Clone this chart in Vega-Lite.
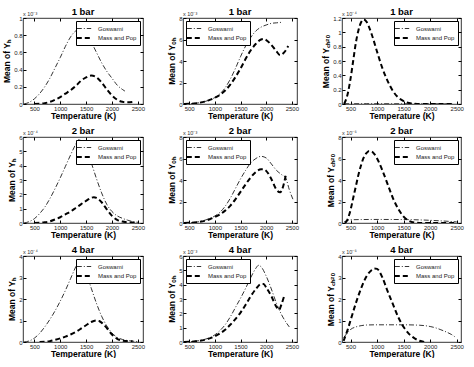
{
  "$schema": "https://vega.github.io/schema/vega-lite/v6.json",
  "background": "white",
  "padding": {"left": 2, "top": 6, "right": 2, "bottom": 0},
  "config": {
    "font": "Liberation Sans",
    "view": {"stroke": "black", "strokeWidth": 0.8},
    "title": {"fontSize": 9.5, "fontWeight": "bold", "offset": 1, "dy": 5, "color": "black"},
    "axis": {"labelFontSize": 6, "labelColor": "#222", "titleFontSize": 8.5, "titleFontWeight": "bold", "titleColor": "black", "domain": false, "grid": false, "tickColor": "black", "tickSize": -3, "labelPadding": 4},
    "axisX": {"titlePadding": 0, "format": "d"},
    "axisY": {"titlePadding": 2, "format": "~f"},
    "legend": {"title": null, "symbolType": "M-1.8,0H1.8", "symbolStrokeColor": "black", "symbolFillColor": "transparent", "strokeColor": "black", "fillColor": "white", "padding": 3, "labelFontSize": 6, "labelColor": "#222", "symbolSize": 64, "offset": 3, "rowPadding": 1, "labelOffset": 9},
    "text": {"fontSize": 5.5, "color": "#333"}
  },
  "datasets": {
    "h1": [
      {"s":"Goswami","T":300,"v":0},{"s":"Goswami","T":400,"v":0.02},{"s":"Goswami","T":500,"v":0.06},{"s":"Goswami","T":600,"v":0.12},{"s":"Goswami","T":700,"v":0.2},{"s":"Goswami","T":800,"v":0.3},{"s":"Goswami","T":900,"v":0.42},{"s":"Goswami","T":1000,"v":0.54},{"s":"Goswami","T":1100,"v":0.67},{"s":"Goswami","T":1200,"v":0.78},{"s":"Goswami","T":1300,"v":0.85},{"s":"Goswami","T":1400,"v":0.87},{"s":"Goswami","T":1500,"v":0.82},{"s":"Goswami","T":1600,"v":0.72},{"s":"Goswami","T":1700,"v":0.6},{"s":"Goswami","T":1800,"v":0.48},{"s":"Goswami","T":1900,"v":0.38},{"s":"Goswami","T":2000,"v":0.3},{"s":"Goswami","T":2100,"v":0.22},{"s":"Goswami","T":2200,"v":0.17},{"s":"Goswami","T":2250,"v":0.15},
      {"s":"Mass and Pop","T":500,"v":0},{"s":"Mass and Pop","T":600,"v":0.002},{"s":"Mass and Pop","T":700,"v":0.01},{"s":"Mass and Pop","T":800,"v":0.025},{"s":"Mass and Pop","T":900,"v":0.05},{"s":"Mass and Pop","T":1000,"v":0.08},{"s":"Mass and Pop","T":1100,"v":0.12},{"s":"Mass and Pop","T":1200,"v":0.16},{"s":"Mass and Pop","T":1300,"v":0.21},{"s":"Mass and Pop","T":1400,"v":0.27},{"s":"Mass and Pop","T":1500,"v":0.31},{"s":"Mass and Pop","T":1600,"v":0.33},{"s":"Mass and Pop","T":1700,"v":0.31},{"s":"Mass and Pop","T":1800,"v":0.25},{"s":"Mass and Pop","T":1900,"v":0.17},{"s":"Mass and Pop","T":2000,"v":0.1},{"s":"Mass and Pop","T":2100,"v":0.05},{"s":"Mass and Pop","T":2200,"v":0.025},{"s":"Mass and Pop","T":2300,"v":0.02},{"s":"Mass and Pop","T":2400,"v":0.025}
    ],
    "oh1": [
      {"s":"Goswami","T":400,"v":0},{"s":"Goswami","T":500,"v":0.02},{"s":"Goswami","T":600,"v":0.06},{"s":"Goswami","T":700,"v":0.12},{"s":"Goswami","T":800,"v":0.22},{"s":"Goswami","T":900,"v":0.38},{"s":"Goswami","T":1000,"v":0.6},{"s":"Goswami","T":1100,"v":0.95},{"s":"Goswami","T":1200,"v":1.5},{"s":"Goswami","T":1300,"v":2.3},{"s":"Goswami","T":1400,"v":3.3},{"s":"Goswami","T":1500,"v":4.4},{"s":"Goswami","T":1600,"v":5.4},{"s":"Goswami","T":1700,"v":6.2},{"s":"Goswami","T":1800,"v":6.8},{"s":"Goswami","T":1900,"v":7.15},{"s":"Goswami","T":2000,"v":7.35},{"s":"Goswami","T":2100,"v":7.5},{"s":"Goswami","T":2200,"v":7.55},{"s":"Goswami","T":2300,"v":7.6},
      {"s":"Mass and Pop","T":400,"v":0},{"s":"Mass and Pop","T":500,"v":0.02},{"s":"Mass and Pop","T":600,"v":0.05},{"s":"Mass and Pop","T":700,"v":0.12},{"s":"Mass and Pop","T":800,"v":0.22},{"s":"Mass and Pop","T":900,"v":0.38},{"s":"Mass and Pop","T":1000,"v":0.58},{"s":"Mass and Pop","T":1100,"v":0.85},{"s":"Mass and Pop","T":1200,"v":1.25},{"s":"Mass and Pop","T":1300,"v":1.8},{"s":"Mass and Pop","T":1400,"v":2.5},{"s":"Mass and Pop","T":1500,"v":3.3},{"s":"Mass and Pop","T":1600,"v":4.2},{"s":"Mass and Pop","T":1700,"v":5.0},{"s":"Mass and Pop","T":1800,"v":5.6},{"s":"Mass and Pop","T":1900,"v":6.0},{"s":"Mass and Pop","T":1950,"v":6.05},{"s":"Mass and Pop","T":2000,"v":5.95},{"s":"Mass and Pop","T":2100,"v":5.5},{"s":"Mass and Pop","T":2200,"v":4.9},{"s":"Mass and Pop","T":2270,"v":4.55},{"s":"Mass and Pop","T":2350,"v":4.8},{"s":"Mass and Pop","T":2430,"v":5.4}
    ],
    "c1": [
      {"s":"Goswami","T":380,"v":0.003},{"s":"Goswami","T":800,"v":0.004},{"s":"Goswami","T":1500,"v":0.003},{"s":"Goswami","T":2450,"v":0.002},
      {"s":"Mass and Pop","T":380,"v":0},{"s":"Mass and Pop","T":450,"v":0.15},{"s":"Mass and Pop","T":500,"v":0.35},{"s":"Mass and Pop","T":550,"v":0.6},{"s":"Mass and Pop","T":600,"v":0.85},{"s":"Mass and Pop","T":650,"v":1.03},{"s":"Mass and Pop","T":700,"v":1.14},{"s":"Mass and Pop","T":750,"v":1.18},{"s":"Mass and Pop","T":800,"v":1.15},{"s":"Mass and Pop","T":900,"v":0.97},{"s":"Mass and Pop","T":1000,"v":0.73},{"s":"Mass and Pop","T":1100,"v":0.5},{"s":"Mass and Pop","T":1200,"v":0.32},{"s":"Mass and Pop","T":1300,"v":0.18},{"s":"Mass and Pop","T":1400,"v":0.09},{"s":"Mass and Pop","T":1500,"v":0.04},{"s":"Mass and Pop","T":1600,"v":0.015},{"s":"Mass and Pop","T":1700,"v":0.005},{"s":"Mass and Pop","T":1800,"v":0.001},{"s":"Mass and Pop","T":2100,"v":0},{"s":"Mass and Pop","T":2450,"v":0}
    ],
    "h2": [
      {"s":"Goswami","T":300,"v":0},{"s":"Goswami","T":400,"v":0.1},{"s":"Goswami","T":500,"v":0.3},{"s":"Goswami","T":600,"v":0.65},{"s":"Goswami","T":700,"v":1.1},{"s":"Goswami","T":800,"v":1.7},{"s":"Goswami","T":900,"v":2.4},{"s":"Goswami","T":1000,"v":3.15},{"s":"Goswami","T":1100,"v":3.95},{"s":"Goswami","T":1200,"v":4.75},{"s":"Goswami","T":1300,"v":5.5},{"s":"Goswami","T":1350,"v":5.8},{"s":"Goswami","T":1400,"v":5.75},{"s":"Goswami","T":1500,"v":5.2},{"s":"Goswami","T":1600,"v":4.2},{"s":"Goswami","T":1700,"v":3.1},{"s":"Goswami","T":1800,"v":2.1},{"s":"Goswami","T":1900,"v":1.3},{"s":"Goswami","T":2000,"v":0.8},{"s":"Goswami","T":2100,"v":0.5},{"s":"Goswami","T":2200,"v":0.33},{"s":"Goswami","T":2300,"v":0.2},{"s":"Goswami","T":2400,"v":0.1},{"s":"Goswami","T":2500,"v":0.05},
      {"s":"Mass and Pop","T":500,"v":0},{"s":"Mass and Pop","T":600,"v":0.01},{"s":"Mass and Pop","T":700,"v":0.05},{"s":"Mass and Pop","T":800,"v":0.12},{"s":"Mass and Pop","T":900,"v":0.25},{"s":"Mass and Pop","T":1000,"v":0.4},{"s":"Mass and Pop","T":1100,"v":0.6},{"s":"Mass and Pop","T":1200,"v":0.8},{"s":"Mass and Pop","T":1300,"v":1.05},{"s":"Mass and Pop","T":1400,"v":1.3},{"s":"Mass and Pop","T":1500,"v":1.55},{"s":"Mass and Pop","T":1600,"v":1.75},{"s":"Mass and Pop","T":1650,"v":1.8},{"s":"Mass and Pop","T":1700,"v":1.75},{"s":"Mass and Pop","T":1800,"v":1.45},{"s":"Mass and Pop","T":1900,"v":0.95},{"s":"Mass and Pop","T":2000,"v":0.5},{"s":"Mass and Pop","T":2100,"v":0.22},{"s":"Mass and Pop","T":2200,"v":0.1},{"s":"Mass and Pop","T":2300,"v":0.05},{"s":"Mass and Pop","T":2400,"v":0.03},{"s":"Mass and Pop","T":2500,"v":0.02}
    ],
    "oh2": [
      {"s":"Goswami","T":400,"v":0},{"s":"Goswami","T":500,"v":0.02},{"s":"Goswami","T":600,"v":0.06},{"s":"Goswami","T":700,"v":0.13},{"s":"Goswami","T":800,"v":0.25},{"s":"Goswami","T":900,"v":0.42},{"s":"Goswami","T":1000,"v":0.65},{"s":"Goswami","T":1100,"v":1.0},{"s":"Goswami","T":1200,"v":1.55},{"s":"Goswami","T":1300,"v":2.3},{"s":"Goswami","T":1400,"v":3.2},{"s":"Goswami","T":1500,"v":4.1},{"s":"Goswami","T":1600,"v":4.9},{"s":"Goswami","T":1700,"v":5.6},{"s":"Goswami","T":1800,"v":6.0},{"s":"Goswami","T":1900,"v":6.2},{"s":"Goswami","T":2000,"v":6.05},{"s":"Goswami","T":2100,"v":5.5},{"s":"Goswami","T":2200,"v":4.9},{"s":"Goswami","T":2300,"v":4.5},{"s":"Goswami","T":2380,"v":4.2},{"s":"Goswami","T":2450,"v":3.1},{"s":"Goswami","T":2530,"v":2.1},
      {"s":"Mass and Pop","T":400,"v":0},{"s":"Mass and Pop","T":500,"v":0.02},{"s":"Mass and Pop","T":600,"v":0.05},{"s":"Mass and Pop","T":700,"v":0.11},{"s":"Mass and Pop","T":800,"v":0.2},{"s":"Mass and Pop","T":900,"v":0.35},{"s":"Mass and Pop","T":1000,"v":0.55},{"s":"Mass and Pop","T":1100,"v":0.8},{"s":"Mass and Pop","T":1200,"v":1.15},{"s":"Mass and Pop","T":1300,"v":1.6},{"s":"Mass and Pop","T":1400,"v":2.2},{"s":"Mass and Pop","T":1500,"v":2.9},{"s":"Mass and Pop","T":1600,"v":3.6},{"s":"Mass and Pop","T":1700,"v":4.25},{"s":"Mass and Pop","T":1800,"v":4.75},{"s":"Mass and Pop","T":1900,"v":5.0},{"s":"Mass and Pop","T":1950,"v":5.0},{"s":"Mass and Pop","T":2000,"v":4.85},{"s":"Mass and Pop","T":2100,"v":4.1},{"s":"Mass and Pop","T":2200,"v":3.1},{"s":"Mass and Pop","T":2270,"v":2.85},{"s":"Mass and Pop","T":2330,"v":3.4},{"s":"Mass and Pop","T":2380,"v":4.4}
    ],
    "c2": [
      {"s":"Goswami","T":380,"v":0.1},{"s":"Goswami","T":450,"v":0.25},{"s":"Goswami","T":500,"v":0.3},{"s":"Goswami","T":700,"v":0.32},{"s":"Goswami","T":1000,"v":0.33},{"s":"Goswami","T":1500,"v":0.32},{"s":"Goswami","T":2000,"v":0.25},{"s":"Goswami","T":2200,"v":0.2},{"s":"Goswami","T":2500,"v":0.1},
      {"s":"Mass and Pop","T":400,"v":0},{"s":"Mass and Pop","T":450,"v":0.4},{"s":"Mass and Pop","T":500,"v":1.2},{"s":"Mass and Pop","T":550,"v":2.3},{"s":"Mass and Pop","T":600,"v":3.4},{"s":"Mass and Pop","T":650,"v":4.5},{"s":"Mass and Pop","T":700,"v":5.4},{"s":"Mass and Pop","T":750,"v":6.1},{"s":"Mass and Pop","T":800,"v":6.5},{"s":"Mass and Pop","T":850,"v":6.7},{"s":"Mass and Pop","T":900,"v":6.65},{"s":"Mass and Pop","T":950,"v":6.4},{"s":"Mass and Pop","T":1000,"v":6.0},{"s":"Mass and Pop","T":1100,"v":4.9},{"s":"Mass and Pop","T":1200,"v":3.6},{"s":"Mass and Pop","T":1300,"v":2.3},{"s":"Mass and Pop","T":1400,"v":1.3},{"s":"Mass and Pop","T":1500,"v":0.6},{"s":"Mass and Pop","T":1600,"v":0.2},{"s":"Mass and Pop","T":1700,"v":0.05},{"s":"Mass and Pop","T":1800,"v":0.01},{"s":"Mass and Pop","T":2100,"v":0},{"s":"Mass and Pop","T":2500,"v":0}
    ],
    "h4": [
      {"s":"Goswami","T":300,"v":0},{"s":"Goswami","T":400,"v":0.05},{"s":"Goswami","T":500,"v":0.18},{"s":"Goswami","T":600,"v":0.4},{"s":"Goswami","T":700,"v":0.7},{"s":"Goswami","T":800,"v":1.05},{"s":"Goswami","T":900,"v":1.45},{"s":"Goswami","T":1000,"v":1.9},{"s":"Goswami","T":1100,"v":2.4},{"s":"Goswami","T":1200,"v":2.95},{"s":"Goswami","T":1300,"v":3.5},{"s":"Goswami","T":1350,"v":3.75},{"s":"Goswami","T":1400,"v":3.7},{"s":"Goswami","T":1500,"v":3.2},{"s":"Goswami","T":1600,"v":2.5},{"s":"Goswami","T":1700,"v":1.8},{"s":"Goswami","T":1800,"v":1.2},{"s":"Goswami","T":1900,"v":0.75},{"s":"Goswami","T":2000,"v":0.42},{"s":"Goswami","T":2100,"v":0.22},{"s":"Goswami","T":2200,"v":0.12},{"s":"Goswami","T":2300,"v":0.07},{"s":"Goswami","T":2400,"v":0.04},{"s":"Goswami","T":2500,"v":0.02},
      {"s":"Mass and Pop","T":600,"v":0},{"s":"Mass and Pop","T":700,"v":0.01},{"s":"Mass and Pop","T":800,"v":0.04},{"s":"Mass and Pop","T":900,"v":0.1},{"s":"Mass and Pop","T":1000,"v":0.17},{"s":"Mass and Pop","T":1100,"v":0.25},{"s":"Mass and Pop","T":1200,"v":0.35},{"s":"Mass and Pop","T":1300,"v":0.47},{"s":"Mass and Pop","T":1400,"v":0.62},{"s":"Mass and Pop","T":1500,"v":0.78},{"s":"Mass and Pop","T":1600,"v":0.93},{"s":"Mass and Pop","T":1700,"v":1.0},{"s":"Mass and Pop","T":1750,"v":0.98},{"s":"Mass and Pop","T":1800,"v":0.9},{"s":"Mass and Pop","T":1900,"v":0.65},{"s":"Mass and Pop","T":2000,"v":0.35},{"s":"Mass and Pop","T":2100,"v":0.15},{"s":"Mass and Pop","T":2200,"v":0.06},{"s":"Mass and Pop","T":2300,"v":0.04},{"s":"Mass and Pop","T":2400,"v":0.03}
    ],
    "oh4": [
      {"s":"Goswami","T":400,"v":0},{"s":"Goswami","T":500,"v":0.02},{"s":"Goswami","T":600,"v":0.05},{"s":"Goswami","T":700,"v":0.1},{"s":"Goswami","T":800,"v":0.18},{"s":"Goswami","T":900,"v":0.3},{"s":"Goswami","T":1000,"v":0.5},{"s":"Goswami","T":1100,"v":0.8},{"s":"Goswami","T":1200,"v":1.2},{"s":"Goswami","T":1300,"v":1.75},{"s":"Goswami","T":1400,"v":2.4},{"s":"Goswami","T":1500,"v":3.05},{"s":"Goswami","T":1600,"v":3.75},{"s":"Goswami","T":1700,"v":4.5},{"s":"Goswami","T":1800,"v":5.15},{"s":"Goswami","T":1850,"v":5.35},{"s":"Goswami","T":1900,"v":5.25},{"s":"Goswami","T":2000,"v":4.6},{"s":"Goswami","T":2100,"v":3.7},{"s":"Goswami","T":2200,"v":2.7},{"s":"Goswami","T":2300,"v":1.9},{"s":"Goswami","T":2400,"v":1.3},{"s":"Goswami","T":2450,"v":1.05},
      {"s":"Mass and Pop","T":400,"v":0},{"s":"Mass and Pop","T":500,"v":0.01},{"s":"Mass and Pop","T":600,"v":0.04},{"s":"Mass and Pop","T":700,"v":0.08},{"s":"Mass and Pop","T":800,"v":0.15},{"s":"Mass and Pop","T":900,"v":0.25},{"s":"Mass and Pop","T":1000,"v":0.4},{"s":"Mass and Pop","T":1100,"v":0.6},{"s":"Mass and Pop","T":1200,"v":0.85},{"s":"Mass and Pop","T":1300,"v":1.2},{"s":"Mass and Pop","T":1400,"v":1.6},{"s":"Mass and Pop","T":1500,"v":2.05},{"s":"Mass and Pop","T":1600,"v":2.6},{"s":"Mass and Pop","T":1700,"v":3.2},{"s":"Mass and Pop","T":1800,"v":3.7},{"s":"Mass and Pop","T":1900,"v":4.05},{"s":"Mass and Pop","T":1950,"v":4.05},{"s":"Mass and Pop","T":2000,"v":3.8},{"s":"Mass and Pop","T":2100,"v":3.2},{"s":"Mass and Pop","T":2200,"v":2.45},{"s":"Mass and Pop","T":2250,"v":2.25},{"s":"Mass and Pop","T":2300,"v":2.65},{"s":"Mass and Pop","T":2350,"v":3.2}
    ],
    "c4": [
      {"s":"Goswami","T":370,"v":0.2},{"s":"Goswami","T":450,"v":0.45},{"s":"Goswami","T":500,"v":0.58},{"s":"Goswami","T":600,"v":0.7},{"s":"Goswami","T":700,"v":0.76},{"s":"Goswami","T":800,"v":0.79},{"s":"Goswami","T":1000,"v":0.8},{"s":"Goswami","T":1500,"v":0.8},{"s":"Goswami","T":1800,"v":0.78},{"s":"Goswami","T":2000,"v":0.72},{"s":"Goswami","T":2100,"v":0.66},{"s":"Goswami","T":2200,"v":0.57},{"s":"Goswami","T":2300,"v":0.47},{"s":"Goswami","T":2400,"v":0.35},{"s":"Goswami","T":2460,"v":0.25},
      {"s":"Mass and Pop","T":370,"v":0.05},{"s":"Mass and Pop","T":450,"v":0.6},{"s":"Mass and Pop","T":500,"v":1.0},{"s":"Mass and Pop","T":600,"v":1.8},{"s":"Mass and Pop","T":700,"v":2.5},{"s":"Mass and Pop","T":800,"v":3.05},{"s":"Mass and Pop","T":900,"v":3.35},{"s":"Mass and Pop","T":950,"v":3.42},{"s":"Mass and Pop","T":1000,"v":3.4},{"s":"Mass and Pop","T":1100,"v":3.0},{"s":"Mass and Pop","T":1200,"v":2.35},{"s":"Mass and Pop","T":1300,"v":1.75},{"s":"Mass and Pop","T":1400,"v":1.15},{"s":"Mass and Pop","T":1500,"v":0.7},{"s":"Mass and Pop","T":1600,"v":0.38},{"s":"Mass and Pop","T":1700,"v":0.18},{"s":"Mass and Pop","T":1800,"v":0.06},{"s":"Mass and Pop","T":1900,"v":0}
    ]
  },
  "columns": 3,
  "spacing": {"row": 5, "column": 22},
  "align": "each",
  "resolve": {"scale": {"strokeDash": "independent", "strokeWidth": "independent"}},
  "concat": [
    {"width": 120, "height": 86, "title": "1 bar",
     "layer": [
      {"data": {"name": "h1"}, "mark": {"type": "line", "color": "black", "interpolate": "monotone", "clip": true},
       "encoding": {
        "x": {"field": "T", "type": "quantitative", "scale": {"domain": [280, 2600], "nice": false, "zero": false}, "axis": {"values": [500,1000,1500,2000,2500], "title": "Temperature (K)"}},
        "y": {"field": "v", "type": "quantitative", "scale": {"domain": [0, 1], "nice": false}, "axis": {"values": [0,0.2,0.4,0.6,0.8,1], "title": "Mean of Yₕ"}},
        "strokeDash": {"field": "s", "type": "nominal", "scale": {"domain": ["Goswami","Mass and Pop"], "range": [[5,2,1,2],[5,3]]}, "legend": {"orient": "top-right"}},
        "strokeWidth": {"field": "s", "type": "nominal", "scale": {"domain": ["Goswami","Mass and Pop"], "range": [0.8, 2]}, "legend": {"orient": "top-right"}}
       }},
      {"data": {"values": [{}]}, "mark": {"type": "text", "align": "left", "baseline": "bottom", "dy": -1},
       "encoding": {
        "x": {"datum": 280, "type": "quantitative", "axis": {"orient": "top", "labels": false, "title": null, "values": [500,1000,1500,2000,2500]}},
        "y": {"datum": 1, "type": "quantitative", "axis": {"orient": "right", "labels": false, "title": null, "values": [0,0.2,0.4,0.6,0.8,1]}},
        "text": {"value": "x 10⁻³"}
       }}
     ],
     "resolve": {"axis": {"x": "independent", "y": "independent"}}
    },
    {"width": 114, "height": 86, "title": "1 bar",
     "layer": [
      {"data": {"name": "oh1"}, "mark": {"type": "line", "color": "black", "interpolate": "monotone", "clip": true},
       "encoding": {
        "x": {"field": "T", "type": "quantitative", "scale": {"domain": [380, 2600], "nice": false, "zero": false}, "axis": {"values": [500,1000,1500,2000,2500], "title": "Temperature (K)"}},
        "y": {"field": "v", "type": "quantitative", "scale": {"domain": [0, 8], "nice": false}, "axis": {"values": [0,2,4,6,8], "title": "Mean of Yₒₕ"}},
        "strokeDash": {"field": "s", "type": "nominal", "scale": {"domain": ["Goswami","Mass and Pop"], "range": [[5,2,1,2],[5,3]]}, "legend": {"orient": "top-left"}},
        "strokeWidth": {"field": "s", "type": "nominal", "scale": {"domain": ["Goswami","Mass and Pop"], "range": [0.8, 2]}, "legend": {"orient": "top-left"}}
       }},
      {"data": {"values": [{}]}, "mark": {"type": "text", "align": "left", "baseline": "bottom", "dy": -1},
       "encoding": {
        "x": {"datum": 380, "type": "quantitative", "axis": {"orient": "top", "labels": false, "title": null, "values": [500,1000,1500,2000,2500]}},
        "y": {"datum": 8, "type": "quantitative", "axis": {"orient": "right", "labels": false, "title": null, "values": [0,2,4,6,8]}},
        "text": {"value": "x 10⁻³"}
       }}
     ],
     "resolve": {"axis": {"x": "independent", "y": "independent"}}
    },
    {"width": 119, "height": 86, "title": "1 bar",
     "layer": [
      {"data": {"name": "c1"}, "mark": {"type": "line", "color": "black", "interpolate": "monotone", "clip": true},
       "encoding": {
        "x": {"field": "T", "type": "quantitative", "scale": {"domain": [340, 2580], "nice": false, "zero": false}, "axis": {"values": [500,1000,1500,2000,2500], "title": "Temperature (K)"}},
        "y": {"field": "v", "type": "quantitative", "scale": {"domain": [0, 1.2], "nice": false}, "axis": {"values": [0,0.2,0.4,0.6,0.8,1,1.2], "title": "Mean of Y꜀ₕ₂ₒ"}},
        "strokeDash": {"field": "s", "type": "nominal", "scale": {"domain": ["Goswami","Mass and Pop"], "range": [[5,2,1,2],[5,3]]}, "legend": {"orient": "top-right"}},
        "strokeWidth": {"field": "s", "type": "nominal", "scale": {"domain": ["Goswami","Mass and Pop"], "range": [0.8, 2]}, "legend": {"orient": "top-right"}}
       }},
      {"data": {"values": [{}]}, "mark": {"type": "text", "align": "left", "baseline": "bottom", "dy": -1},
       "encoding": {
        "x": {"datum": 340, "type": "quantitative", "axis": {"orient": "top", "labels": false, "title": null, "values": [500,1000,1500,2000,2500]}},
        "y": {"datum": 1.2, "type": "quantitative", "axis": {"orient": "right", "labels": false, "title": null, "values": [0,0.2,0.4,0.6,0.8,1,1.2]}},
        "text": {"value": "x 10⁻⁴"}
       }}
     ],
     "resolve": {"axis": {"x": "independent", "y": "independent"}}
    },
    {"width": 120, "height": 86, "title": "2 bar",
     "layer": [
      {"data": {"name": "h2"}, "mark": {"type": "line", "color": "black", "interpolate": "monotone", "clip": true},
       "encoding": {
        "x": {"field": "T", "type": "quantitative", "scale": {"domain": [280, 2600], "nice": false, "zero": false}, "axis": {"values": [500,1000,1500,2000,2500], "title": "Temperature (K)"}},
        "y": {"field": "v", "type": "quantitative", "scale": {"domain": [0, 6], "nice": false}, "axis": {"values": [0,1,2,3,4,5,6], "title": "Mean of Yₕ"}},
        "strokeDash": {"field": "s", "type": "nominal", "scale": {"domain": ["Goswami","Mass and Pop"], "range": [[5,2,1,2],[5,3]]}, "legend": {"orient": "top-right"}},
        "strokeWidth": {"field": "s", "type": "nominal", "scale": {"domain": ["Goswami","Mass and Pop"], "range": [0.8, 2]}, "legend": {"orient": "top-right"}}
       }},
      {"data": {"values": [{}]}, "mark": {"type": "text", "align": "left", "baseline": "bottom", "dy": -1},
       "encoding": {
        "x": {"datum": 280, "type": "quantitative", "axis": {"orient": "top", "labels": false, "title": null, "values": [500,1000,1500,2000,2500]}},
        "y": {"datum": 6, "type": "quantitative", "axis": {"orient": "right", "labels": false, "title": null, "values": [0,1,2,3,4,5,6]}},
        "text": {"value": "x 10⁻⁴"}
       }}
     ],
     "resolve": {"axis": {"x": "independent", "y": "independent"}}
    },
    {"width": 114, "height": 86, "title": "2 bar",
     "layer": [
      {"data": {"name": "oh2"}, "mark": {"type": "line", "color": "black", "interpolate": "monotone", "clip": true},
       "encoding": {
        "x": {"field": "T", "type": "quantitative", "scale": {"domain": [380, 2600], "nice": false, "zero": false}, "axis": {"values": [500,1000,1500,2000,2500], "title": "Temperature (K)"}},
        "y": {"field": "v", "type": "quantitative", "scale": {"domain": [0, 8], "nice": false}, "axis": {"values": [0,2,4,6,8], "title": "Mean of Yₒₕ"}},
        "strokeDash": {"field": "s", "type": "nominal", "scale": {"domain": ["Goswami","Mass and Pop"], "range": [[5,2,1,2],[5,3]]}, "legend": {"orient": "top-left"}},
        "strokeWidth": {"field": "s", "type": "nominal", "scale": {"domain": ["Goswami","Mass and Pop"], "range": [0.8, 2]}, "legend": {"orient": "top-left"}}
       }},
      {"data": {"values": [{}]}, "mark": {"type": "text", "align": "left", "baseline": "bottom", "dy": -1},
       "encoding": {
        "x": {"datum": 380, "type": "quantitative", "axis": {"orient": "top", "labels": false, "title": null, "values": [500,1000,1500,2000,2500]}},
        "y": {"datum": 8, "type": "quantitative", "axis": {"orient": "right", "labels": false, "title": null, "values": [0,2,4,6,8]}},
        "text": {"value": "x 10⁻³"}
       }}
     ],
     "resolve": {"axis": {"x": "independent", "y": "independent"}}
    },
    {"width": 119, "height": 86, "title": "2 bar",
     "layer": [
      {"data": {"name": "c2"}, "mark": {"type": "line", "color": "black", "interpolate": "monotone", "clip": true},
       "encoding": {
        "x": {"field": "T", "type": "quantitative", "scale": {"domain": [340, 2580], "nice": false, "zero": false}, "axis": {"values": [500,1000,1500,2000,2500], "title": "Temperature (K)"}},
        "y": {"field": "v", "type": "quantitative", "scale": {"domain": [0, 8], "nice": false}, "axis": {"values": [0,2,4,6,8], "title": "Mean of Y꜀ₕ₂ₒ"}},
        "strokeDash": {"field": "s", "type": "nominal", "scale": {"domain": ["Goswami","Mass and Pop"], "range": [[5,2,1,2],[5,3]]}, "legend": {"orient": "top-right"}},
        "strokeWidth": {"field": "s", "type": "nominal", "scale": {"domain": ["Goswami","Mass and Pop"], "range": [0.8, 2]}, "legend": {"orient": "top-right"}}
       }},
      {"data": {"values": [{}]}, "mark": {"type": "text", "align": "left", "baseline": "bottom", "dy": -1},
       "encoding": {
        "x": {"datum": 340, "type": "quantitative", "axis": {"orient": "top", "labels": false, "title": null, "values": [500,1000,1500,2000,2500]}},
        "y": {"datum": 8, "type": "quantitative", "axis": {"orient": "right", "labels": false, "title": null, "values": [0,2,4,6,8]}},
        "text": {"value": "x 10⁻⁶"}
       }}
     ],
     "resolve": {"axis": {"x": "independent", "y": "independent"}}
    },
    {"width": 120, "height": 86, "title": "4 bar",
     "layer": [
      {"data": {"name": "h4"}, "mark": {"type": "line", "color": "black", "interpolate": "monotone", "clip": true},
       "encoding": {
        "x": {"field": "T", "type": "quantitative", "scale": {"domain": [280, 2600], "nice": false, "zero": false}, "axis": {"values": [500,1000,1500,2000,2500], "title": "Temperature (K)"}},
        "y": {"field": "v", "type": "quantitative", "scale": {"domain": [0, 4], "nice": false}, "axis": {"values": [0,1,2,3,4], "title": "Mean of Yₕ"}},
        "strokeDash": {"field": "s", "type": "nominal", "scale": {"domain": ["Goswami","Mass and Pop"], "range": [[5,2,1,2],[5,3]]}, "legend": {"orient": "top-right"}},
        "strokeWidth": {"field": "s", "type": "nominal", "scale": {"domain": ["Goswami","Mass and Pop"], "range": [0.8, 2]}, "legend": {"orient": "top-right"}}
       }},
      {"data": {"values": [{}]}, "mark": {"type": "text", "align": "left", "baseline": "bottom", "dy": -1},
       "encoding": {
        "x": {"datum": 280, "type": "quantitative", "axis": {"orient": "top", "labels": false, "title": null, "values": [500,1000,1500,2000,2500]}},
        "y": {"datum": 4, "type": "quantitative", "axis": {"orient": "right", "labels": false, "title": null, "values": [0,1,2,3,4]}},
        "text": {"value": "x 10⁻⁴"}
       }}
     ],
     "resolve": {"axis": {"x": "independent", "y": "independent"}}
    },
    {"width": 114, "height": 86, "title": "4 bar",
     "layer": [
      {"data": {"name": "oh4"}, "mark": {"type": "line", "color": "black", "interpolate": "monotone", "clip": true},
       "encoding": {
        "x": {"field": "T", "type": "quantitative", "scale": {"domain": [380, 2600], "nice": false, "zero": false}, "axis": {"values": [500,1000,1500,2000,2500], "title": "Temperature (K)"}},
        "y": {"field": "v", "type": "quantitative", "scale": {"domain": [0, 6], "nice": false}, "axis": {"values": [0,1,2,3,4,5,6], "title": "Mean of Yₒₕ"}},
        "strokeDash": {"field": "s", "type": "nominal", "scale": {"domain": ["Goswami","Mass and Pop"], "range": [[5,2,1,2],[5,3]]}, "legend": {"orient": "top-left"}},
        "strokeWidth": {"field": "s", "type": "nominal", "scale": {"domain": ["Goswami","Mass and Pop"], "range": [0.8, 2]}, "legend": {"orient": "top-left"}}
       }},
      {"data": {"values": [{}]}, "mark": {"type": "text", "align": "left", "baseline": "bottom", "dy": -1},
       "encoding": {
        "x": {"datum": 380, "type": "quantitative", "axis": {"orient": "top", "labels": false, "title": null, "values": [500,1000,1500,2000,2500]}},
        "y": {"datum": 6, "type": "quantitative", "axis": {"orient": "right", "labels": false, "title": null, "values": [0,1,2,3,4,5,6]}},
        "text": {"value": "x 10⁻³"}
       }}
     ],
     "resolve": {"axis": {"x": "independent", "y": "independent"}}
    },
    {"width": 119, "height": 86, "title": "4 bar",
     "layer": [
      {"data": {"name": "c4"}, "mark": {"type": "line", "color": "black", "interpolate": "monotone", "clip": true},
       "encoding": {
        "x": {"field": "T", "type": "quantitative", "scale": {"domain": [340, 2580], "nice": false, "zero": false}, "axis": {"values": [500,1000,1500,2000,2500], "title": "Temperature (K)"}},
        "y": {"field": "v", "type": "quantitative", "scale": {"domain": [0, 4], "nice": false}, "axis": {"values": [0,1,2,3,4], "title": "Mean of Y꜀ₕ₂ₒ"}},
        "strokeDash": {"field": "s", "type": "nominal", "scale": {"domain": ["Goswami","Mass and Pop"], "range": [[5,2,1,2],[5,3]]}, "legend": {"orient": "top-right"}},
        "strokeWidth": {"field": "s", "type": "nominal", "scale": {"domain": ["Goswami","Mass and Pop"], "range": [0.8, 2]}, "legend": {"orient": "top-right"}}
       }},
      {"data": {"values": [{}]}, "mark": {"type": "text", "align": "left", "baseline": "bottom", "dy": -1},
       "encoding": {
        "x": {"datum": 340, "type": "quantitative", "axis": {"orient": "top", "labels": false, "title": null, "values": [500,1000,1500,2000,2500]}},
        "y": {"datum": 4, "type": "quantitative", "axis": {"orient": "right", "labels": false, "title": null, "values": [0,1,2,3,4]}},
        "text": {"value": "x 10⁻⁶"}
       }}
     ],
     "resolve": {"axis": {"x": "independent", "y": "independent"}}
    }
  ]
}
